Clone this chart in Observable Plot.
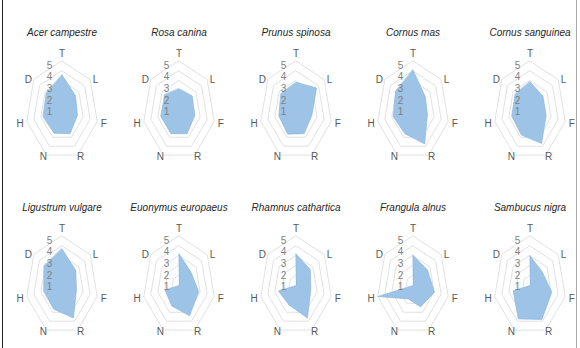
<!DOCTYPE html>
<html><head><meta charset="utf-8">
<script src="https://cdn.jsdelivr.net/npm/d3@7"></script>
<script src="https://cdn.jsdelivr.net/npm/@observablehq/plot@0.6"></script>
<style>
body{margin:0;background:#fff;}
#wrap{position:relative;width:580px;height:348px;overflow:hidden;background:#fff;}
#wrap svg{position:absolute;left:0;top:0;}
.bl{position:absolute;left:2px;top:0;width:1px;height:348px;background:#222;z-index:2;}
.br{position:absolute;left:576px;top:0;width:1px;height:348px;background:#aaa;z-index:2;}
</style></head><body><div id="wrap"><div class="bl"></div><div class="br"></div></div>
<script>
// Axis (category) labels, clockwise from the top
const axisNames = ["T", "L", "F", "R", "N", "H", "D"];
// Value-axis tick labels
const tickValues = [1, 2, 3, 4, 5];
// Species (panel titles), row by row
const speciesNames = ["Acer campestre", "Rosa canina", "Prunus spinosa", "Cornus mas", "Cornus sanguinea",
  "Ligustrum vulgare", "Euonymus europaeus", "Rhamnus cathartica", "Frangula alnus", "Sambucus nigra"];
// Values in the order T, L, F, R, N, H, D
const acerCampestre     = [3.6, 2.4, 2.2, 2.6, 2.55, 2.7, 2.8];
const rosaCanina        = [2.2, 2.35, 2.25, 2.6, 2.6, 2.6, 2.55];
const prunusSpinosa     = [2.85, 3.65, 2.25, 2.6, 2.65, 2.45, 2.7];
const cornusMas         = [4.1, 2.2, 2.05, 3.75, 2.6, 2.8, 3.1];
const cornusSanguinea   = [2.9, 2.3, 2.3, 3.7, 2.75, 2.6, 2.65];
const ligustrumVulgare  = [3.7, 2.45, 2.05, 3.65, 2.65, 2.6, 3.2];
const euonymusEuropaeus = [3.2, 2.15, 2.8, 3.4, 2.3, 2.0, 0];
const rhamnusCathartica = [3.2, 2.55, 2.1, 3.65, 2.2, 2.5, 0];
const frangulaAlnus     = [3.05, 2.55, 3.05, 2.4, 1.5, 5.0, 0];
const sambucusNigra     = [3.0, 2.2, 3.1, 3.8, 3.75, 2.4, 0];

const seriesValues = [acerCampestre, rosaCanina, prunusSpinosa, cornusMas, cornusSanguinea,
  ligustrumVulgare, euonymusEuropaeus, rhamnusCathartica, frangulaAlnus, sambucusNigra];

// ---- layout constants ----
const W = 580, H = 348;
const SX = 7.3, SY = 9.9;          // px per value unit horizontally / vertically
const BW = 90;                     // facet cell width
const ABOVE = 85, BELOW = 55;      // cell extent above/below the radar centre
const LABEL_RX = 5.95;                                  // category label radius (x)
const LABEL_RY = [5.75, 4.9, 6.0, 5.2, 5.2, 6.0, 4.9];  // category label radius (y), per axis

const n = axisNames.length;
const ang = k => 2 * Math.PI * k / n;

const panels = speciesNames.map((name, i) => ({name, col: i % 5, row: Math.floor(i / 5)}));
const polyPts = seriesValues.flatMap((vals, i) => vals.map((v, k) => ({
  col: i % 5, row: Math.floor(i / 5), name: speciesNames[i], axis: axisNames[k],
  x: v * Math.sin(ang(k)), y: v * Math.cos(ang(k))
})));
const ringPts = tickValues.flatMap(r => axisNames.map((a, k) => ({ring: r, x: r * Math.sin(ang(k)), y: r * Math.cos(ang(k))})));
const axisLabelPts = axisNames.map((a, k) => ({label: a, x: LABEL_RX * Math.sin(ang(k)), y: LABEL_RY[k] * Math.cos(ang(k))}));
const tickLabelPts = tickValues.map(v => ({label: String(v), x: -1.74, y: (v - 1) * 1.18 - 0.17}));

const chart = Plot.plot({
  width: W, height: H,
  marginLeft: 15, marginRight: 3, marginTop: 25, marginBottom: 8,
  fx: {domain: [0, 1, 2, 3, 4], paddingInner: 0.237, paddingOuter: 0, axis: null},
  fy: {domain: [0, 1], paddingInner: 0.2, paddingOuter: 0, axis: null},
  x: {domain: [-BW / 2 / SX, BW / 2 / SX], axis: null},
  y: {domain: [-BELOW / SY, ABOVE / SY], axis: null},
  style: {fontFamily: "'Liberation Sans', Arial, sans-serif", background: "transparent"},
  marks: [
    Plot.line(ringPts, {x: "x", y: "y", z: "ring", curve: "linear-closed", stroke: "#d9d9d9", strokeWidth: 0.8}),
    Plot.line(polyPts, {x: "x", y: "y", z: "name", fx: "col", fy: "row", curve: "linear-closed",
      fill: "#9dc3e6", stroke: "#86b3de", strokeWidth: 0.6}),
    Plot.text(axisLabelPts, {x: "x", y: "y", text: "label", fill: "#595959", fontSize: 10}),
    Plot.text(tickLabelPts, {x: "x", y: "y", text: "label", fill: "#7f7f7f", fontSize: 10}),
    Plot.text(panels, {fx: "col", fy: "row", text: "name", frameAnchor: "top", lineAnchor: "middle", dy: 7,
      fontSize: 10, fontStyle: "italic", fill: "#262626"})
  ]
});
document.getElementById("wrap").appendChild(chart);
</script></body></html>
